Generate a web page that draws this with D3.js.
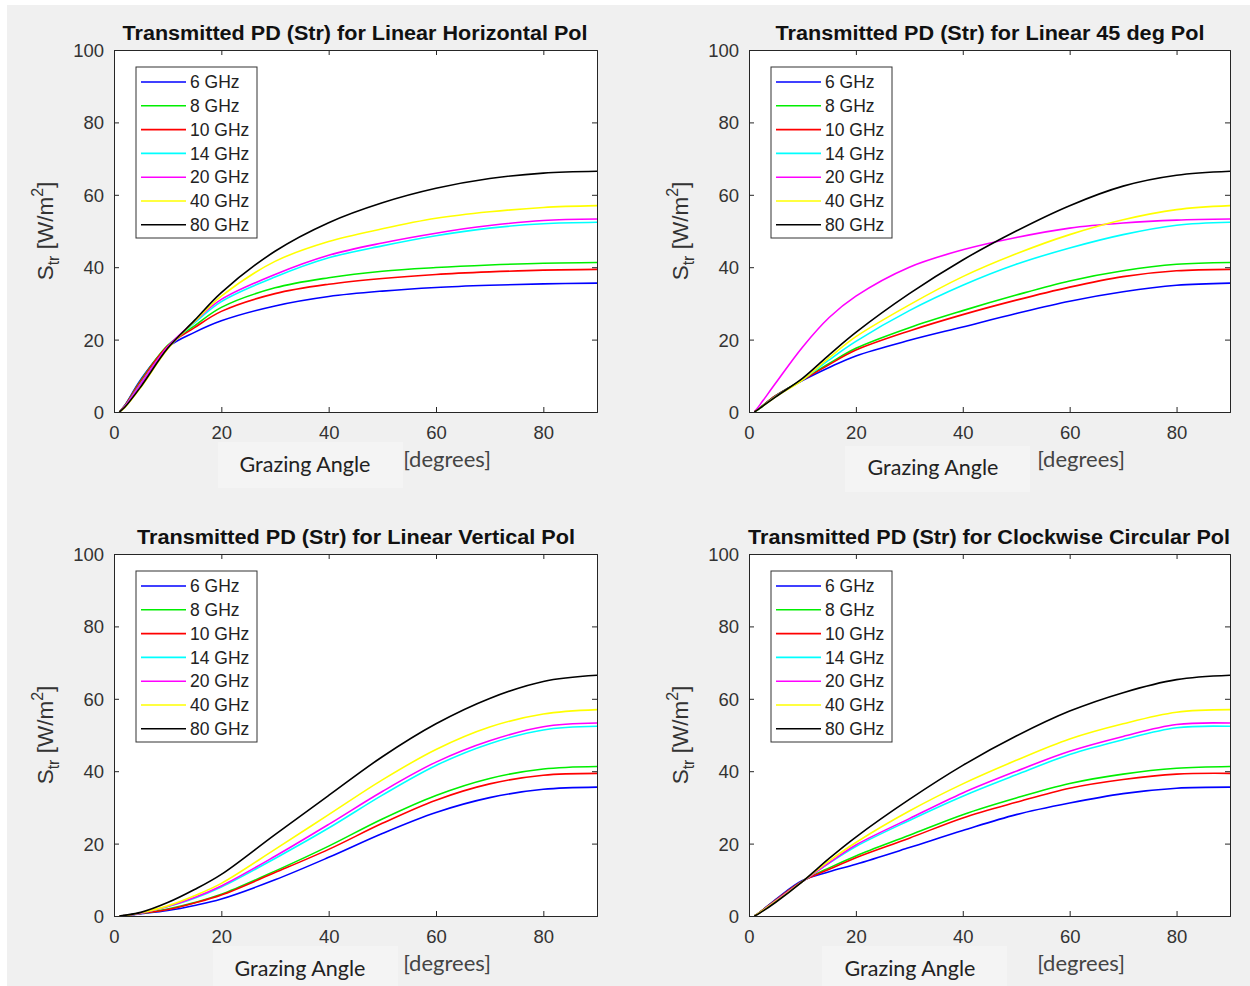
<!DOCTYPE html>
<html>
<head>
<meta charset="utf-8">
<script src="https://cdn.jsdelivr.net/npm/d3@7"></script>
<style>
  html, body { margin: 0; padding: 0; background: #ffffff; }
  svg { display: block; }
</style>
</head>
<body>
<svg id="chart" width="1250" height="986"></svg>
<script>
// ---------------- data ----------------
const angles = [1, 2, 5, 10, 15, 20, 30, 40, 50, 60, 70, 80, 90];
const freqLabels = ["6 GHz", "8 GHz", "10 GHz", "14 GHz", "20 GHz", "40 GHz", "80 GHz"];
const seriesColors = ["#0000ff", "#00ee00", "#ff0000", "#00ffff", "#ff00ff", "#ffff00", "#000000"];
const xTicks = [0, 20, 40, 60, 80];
const yTicks = [0, 20, 40, 60, 80, 100];
const titles = [
  "Transmitted PD (Str) for Linear Horizontal Pol",
  "Transmitted PD (Str) for Linear 45 deg Pol",
  "Transmitted PD (Str) for Linear Vertical Pol",
  "Transmitted PD (Str) for Clockwise Circular Pol"
];

// Linear horizontal polarisation
const horizontal = [
  [0, 1.8, 9.0, 17.9, 22.0, 25.2, 29.3, 31.9, 33.4, 34.4, 35.0, 35.4, 35.6],
  [0, 1.7, 8.7, 18.4, 23.8, 28.9, 34.3, 37.1, 38.9, 39.9, 40.6, 41.1, 41.3],
  [0, 1.7, 8.5, 18.2, 23.3, 27.8, 32.7, 35.3, 36.9, 38.0, 38.7, 39.2, 39.4],
  [0, 1.5, 7.9, 17.9, 24.6, 30.5, 37.3, 42.6, 45.9, 48.7, 50.8, 52.0, 52.4],
  [0, 1.5, 7.7, 18.0, 25.0, 31.1, 38.0, 43.3, 46.7, 49.4, 51.5, 52.9, 53.3],
  [0, 1.2, 6.8, 17.4, 25.0, 32.0, 41.6, 47.1, 50.6, 53.5, 55.3, 56.5, 57.0],
  [0, 1.3, 7.0, 17.6, 25.3, 33.0, 44.4, 52.3, 57.8, 61.8, 64.5, 66.0, 66.5]
];
// Linear 45 deg polarisation
const deg45 = [
  [0, 1.1, 4.5, 8.7, 12.3, 15.5, 19.8, 23.5, 27.2, 30.6, 33.2, 35.0, 35.6],
  [0, 1.1, 4.5, 8.9, 13.4, 17.6, 23.3, 28.0, 32.3, 36.2, 39.0, 40.8, 41.3],
  [0, 1.1, 4.5, 8.8, 13.1, 17.1, 22.4, 26.9, 30.9, 34.5, 37.4, 39.0, 39.4],
  [0, 1.0, 4.3, 8.9, 14.4, 19.5, 28.0, 35.0, 40.8, 45.3, 49.0, 51.6, 52.4],
  [0, 1.9, 8.0, 17.9, 26.1, 32.0, 40.0, 44.8, 48.2, 50.8, 52.2, 53.0, 53.3],
  [0, 1.0, 4.2, 8.8, 15.0, 20.8, 29.6, 37.4, 43.7, 49.0, 53.1, 55.9, 57.0],
  [0, 1.0, 4.2, 9.3, 15.8, 22.0, 32.7, 42.0, 50.0, 57.0, 62.4, 65.4, 66.5]
];
// Linear vertical polarisation
const vertical = [
  [0, 0.1, 0.6, 1.5, 2.9, 4.7, 10.0, 16.2, 22.8, 28.6, 32.7, 35.0, 35.6],
  [0, 0.1, 0.7, 1.9, 3.7, 6.0, 12.4, 19.3, 26.8, 33.3, 38.0, 40.6, 41.3],
  [0, 0.1, 0.7, 1.8, 3.6, 5.8, 12.0, 18.4, 25.6, 32.0, 36.5, 38.9, 39.4],
  [0, 0.1, 0.8, 2.6, 4.9, 8.0, 15.9, 24.3, 33.4, 41.6, 47.6, 51.4, 52.4],
  [0, 0.1, 0.8, 2.6, 5.1, 8.3, 16.5, 25.3, 34.4, 42.5, 48.4, 52.3, 53.3],
  [0, 0.1, 0.9, 2.8, 5.6, 9.0, 18.4, 28.0, 37.6, 46.0, 52.2, 55.8, 57.0],
  [0, 0.2, 1.0, 3.7, 7.3, 11.5, 22.5, 33.3, 44.0, 53.1, 60.1, 64.8, 66.5]
];
// Clockwise circular polarisation
const circular = [
  [0, 1.0, 4.6, 9.8, 12.2, 14.3, 18.9, 23.6, 28.0, 31.2, 33.8, 35.3, 35.6],
  [0, 1.0, 4.4, 9.6, 13.3, 16.6, 22.3, 28.0, 32.6, 36.6, 39.2, 40.8, 41.3],
  [0, 1.0, 4.4, 9.6, 12.9, 16.1, 21.5, 27.1, 31.4, 35.3, 37.7, 39.2, 39.4],
  [0, 0.9, 4.2, 9.5, 14.6, 19.2, 26.4, 33.1, 39.0, 44.6, 48.7, 52.0, 52.4],
  [0, 0.9, 4.2, 9.5, 14.7, 19.6, 26.9, 34.0, 40.0, 45.5, 49.6, 52.9, 53.3],
  [0, 0.9, 4.0, 9.5, 15.2, 20.3, 29.0, 36.5, 43.0, 48.9, 53.1, 56.3, 57.0],
  [0, 0.8, 3.8, 9.5, 15.9, 21.8, 32.2, 41.6, 49.7, 56.6, 61.7, 65.3, 66.5]
];
const panelData = [horizontal, deg45, vertical, circular];

// ---------------- layout ----------------
const svg = d3.select("#chart");
svg.append("rect").attr("x", 7).attr("y", 5).attr("width", 1243).attr("height", 981).attr("fill", "#f0f0f0");

const panels = [
  {x0: 114, x1: 597, y0: 50, y1: 412, tx: 355, tw: 465, gx: 305, gy: 472, dx: 447, bg: [218, 442, 185, 46]},
  {x0: 749, x1: 1230, y0: 50, y1: 412, tx: 990, tw: 429, gx: 933, gy: 475, dx: 1081, bg: [845, 446, 185, 46]},
  {x0: 114, x1: 597, y0: 554, y1: 916, tx: 356, tw: 438, gx: 300, gy: 976, dx: 447, bg: [213, 946, 185, 40]},
  {x0: 749, x1: 1230, y0: 554, y1: 916, tx: 989, tw: 482, gx: 910, gy: 976, dx: 1081, bg: [822, 946, 185, 40]}
];

const axisColor = "#262626";
const tickFont = "Liberation Sans, Arial, sans-serif";
const calFont = "Lato, 'Open Sans', sans-serif";

panels.forEach((p, pi) => {
  const x = d3.scaleLinear().domain([0, 90]).range([p.x0, p.x1]);
  const y = d3.scaleLinear().domain([0, 100]).range([p.y1, p.y0]);
  const g = svg.append("g");

  g.append("rect").attr("x", p.x0).attr("y", p.y0).attr("width", p.x1 - p.x0).attr("height", p.y1 - p.y0)
    .attr("fill", "#ffffff");

  const line = d3.line().x((d, i) => x(angles[i])).y(d => y(d)).curve(d3.curveCatmullRom.alpha(0.5));
  panelData[pi].forEach((vals, si) => {
    g.append("path").attr("d", line(vals)).attr("fill", "none")
      .attr("stroke", seriesColors[si]).attr("stroke-width", 1.6).attr("stroke-linejoin", "round");
  });

  const axB = d3.axisBottom(x).tickValues(xTicks).tickSize(-5).tickPadding(12).tickFormat(d3.format("d"));
  const axT = d3.axisTop(x).tickValues(xTicks).tickSize(-5).tickFormat("");
  const axL = d3.axisLeft(y).tickValues(yTicks).tickSize(-5).tickPadding(10).tickFormat(d3.format("d"));
  const axR = d3.axisRight(y).tickValues(yTicks).tickSize(-5).tickFormat("");
  const gb = g.append("g").attr("transform", `translate(0,${p.y1})`).call(axB);
  const gt = g.append("g").attr("transform", `translate(0,${p.y0})`).call(axT);
  const gl = g.append("g").attr("transform", `translate(${p.x0},0)`).call(axL);
  const gr = g.append("g").attr("transform", `translate(${p.x1},0)`).call(axR);
  [gb, gt, gl, gr].forEach(a => {
    a.select(".domain").attr("stroke", axisColor).attr("stroke-width", 1);
    a.selectAll(".tick line").attr("stroke", axisColor);
    a.selectAll(".tick text").attr("fill", "#333").attr("font-size", 18.5).attr("font-family", tickFont);
  });
  gb.selectAll(".tick text").attr("dy", "0.8em");
  gl.selectAll(".tick text").attr("dy", "0.35em");

  g.append("text").attr("x", p.tx).attr("y", p.y0 - 10).attr("text-anchor", "middle")
    .attr("font-family", tickFont).attr("font-weight", "bold").attr("font-size", 20).attr("fill", "#111")
    .attr("textLength", p.tw).attr("lengthAdjust", "spacingAndGlyphs")
    .text(titles[pi]);

  const yl = g.append("text").attr("transform", `translate(${p.x0 - 61},${(p.y0 + p.y1) / 2}) rotate(-90)`)
    .attr("text-anchor", "middle").attr("font-family", tickFont).attr("font-size", 22.5).attr("fill", "#333");
  yl.append("tspan").text("S");
  yl.append("tspan").attr("font-size", 16).attr("dy", 6).text("tr");
  yl.append("tspan").attr("dy", -6).text(" [W/m");
  yl.append("tspan").attr("font-size", 16).attr("dy", -10).text("2");
  yl.append("tspan").attr("dy", 10).text("]");

  g.append("rect").attr("x", p.bg[0]).attr("y", p.bg[1]).attr("width", p.bg[2]).attr("height", p.bg[3]).attr("fill", "#f4f4f4");
  g.append("text").attr("x", p.gx).attr("y", p.gy).attr("text-anchor", "middle")
    .attr("font-family", calFont).attr("font-size", 21.5).attr("fill", "#222").text("Grazing Angle");
  g.append("text").attr("x", p.dx).attr("y", p.y1 + 55).attr("text-anchor", "middle")
    .attr("font-family", calFont).attr("font-size", 22).attr("fill", "#444").text("[degrees]");

  const lx = p.x0 + 22, ly = p.y0 + 17;
  const lg = g.append("g");
  lg.append("rect").attr("x", lx).attr("y", ly).attr("width", 121).attr("height", 171)
    .attr("fill", "#ffffff").attr("stroke", "#333").attr("stroke-width", 1);
  freqLabels.forEach((lab, i) => {
    const yy = ly + 15 + i * 23.8;
    lg.append("line").attr("x1", lx + 5).attr("x2", lx + 50).attr("y1", yy).attr("y2", yy)
      .attr("stroke", seriesColors[i]).attr("stroke-width", 1.6);
    lg.append("text").attr("x", lx + 54).attr("y", yy).attr("dy", "0.35em")
      .attr("font-family", tickFont).attr("font-size", 17.5).attr("fill", "#222").text(lab);
  });
});
</script>
</body>
</html>
